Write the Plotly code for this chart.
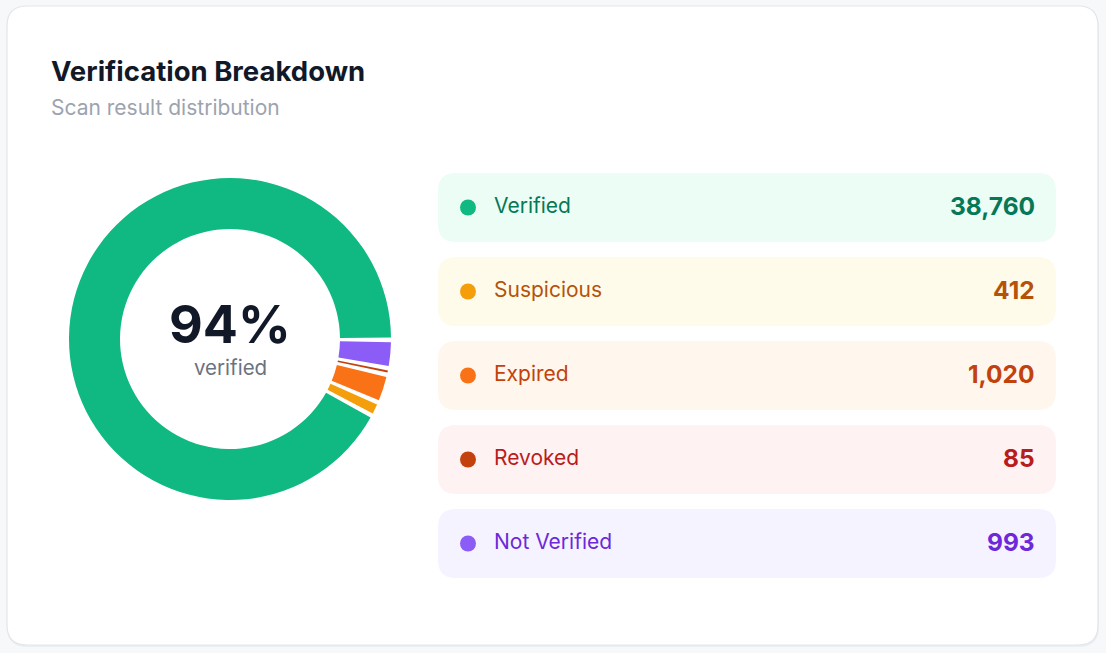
import plotly.graph_objects as go

# ---- data ----
categories = ["Verified", "Suspicious", "Expired", "Revoked", "Not Verified"]
counts = [38760, 412, 1020, 85, 993]
dot_colors = ["#10b981", "#f59e0b", "#f97316", "#c2410c", "#8b5cf6"]
text_colors = ["#047857", "#b45309", "#c2410c", "#b91c1c", "#6d28d9"]
row_bgs = ["#ecfdf5", "#fffbeb", "#fff7ed", "#fef2f2", "#f5f3ff"]
title = "Verification Breakdown"
subtitle = "Scan result distribution"

W, H = 1106, 653
FONT = "Inter, 'Noto Sans', sans-serif"

total = sum(counts)
pct = round(100 * counts[0] / total)

# donut order (clockwise from 3 o'clock): Not Verified, Revoked, Expired, Suspicious, Verified
pie_order = [4, 3, 2, 1, 0]
gap_deg = 1.7
gap_val = total * gap_deg / 360.0
pie_vals, pie_cols, pie_labels = [], [], []
for i in pie_order:
    pie_vals.append(gap_val)
    pie_cols.append("rgba(255,255,255,0)")
    pie_labels.append(f"gap{i}")
    pie_vals.append(counts[i])
    pie_cols.append(dot_colors[i])
    pie_labels.append(categories[i])


def rrect(x0, y0, x1, y1, r):
    return (f"M{x0+r},{y0} L{x1-r},{y0} Q{x1},{y0} {x1},{y0+r} "
            f"L{x1},{y1-r} Q{x1},{y1} {x1-r},{y1} L{x0+r},{y1} "
            f"Q{x0},{y1} {x0},{y1-r} L{x0},{y0+r} Q{x0},{y0} {x0+r},{y0} Z")


cx, cy, R = 230, 339, 161
fig = go.Figure()
fig.add_trace(go.Pie(
    values=pie_vals, labels=pie_labels, sort=False, direction="clockwise",
    rotation=89.5, hole=110 / R,
    marker=dict(colors=pie_cols, line=dict(width=0)),
    textinfo="none", hoverinfo="skip", showlegend=False,
    domain=dict(x=[(cx - R) / W, (cx + R) / W],
                y=[(H - cy - R) / H, (H - cy + R) / H]),
))

shapes = []
# card shadow + card
shapes.append(dict(type="path", path=rrect(7, 8, 1099, 647, 20), xref="x", yref="y",
                   fillcolor="#eceef2", line=dict(width=0), layer="below"))
shapes.append(dict(type="path", path=rrect(7, 6, 1098, 645, 20), xref="x", yref="y",
                   fillcolor="#ffffff", line=dict(color="#e3e5ea", width=1.2), layer="below"))

annotations = [
    dict(x=49, y=71, text=f"<b>{title}</b>", xanchor="left", yanchor="middle",
         font=dict(family=FONT, size=27.5, color="#111827")),
    dict(x=49, y=107, text=subtitle, xanchor="left", yanchor="middle",
         font=dict(family=FONT, size=21, color="#9ca3af")),
    dict(x=cx, y=324, text=f"<b>{pct}%</b>", xanchor="center", yanchor="middle",
         font=dict(family=FONT, size=52, color="#111827")),
    dict(x=cx, y=367, text="verified", xanchor="center", yanchor="middle",
         font=dict(family=FONT, size=20.5, color="#6b7280")),
]

row_x0, row_x1 = 438, 1056
row_top0, row_h, row_step = 173, 69, 84
for k, (name, val) in enumerate(zip(categories, counts)):
    y0 = row_top0 + k * row_step
    ym = y0 + row_h / 2
    shapes.append(dict(type="path", path=rrect(row_x0, y0, row_x1, y0 + row_h, 18),
                       xref="x", yref="y", fillcolor=row_bgs[k], line=dict(width=0),
                       layer="below"))
    shapes.append(dict(type="circle", xref="x", yref="y", x0=460, x1=476,
                       y0=ym - 8, y1=ym + 8, fillcolor=dot_colors[k],
                       line=dict(width=0), layer="above"))
    annotations.append(dict(x=492, y=ym - 2, text=name, xanchor="left", yanchor="middle",
                            font=dict(family=FONT, size=21, color=text_colors[k])))
    annotations.append(dict(x=1036.5, y=ym - 1.5, text=f"<b>{val:,}</b>", xanchor="right",
                            yanchor="middle",
                            font=dict(family=FONT, size=24.5, color=text_colors[k])))

for a in annotations:
    a.update(xref="x", yref="y", showarrow=False)

fig.update_layout(
    width=W, height=H, margin=dict(l=0, r=0, t=0, b=0),
    paper_bgcolor="#f7f8fa", plot_bgcolor="rgba(0,0,0,0)",
    xaxis=dict(range=[0, W], visible=False, fixedrange=True),
    yaxis=dict(range=[H, 0], visible=False, fixedrange=True),
    shapes=shapes, annotations=annotations, showlegend=False,
)
fig.write_html("out.html", config={"displayModeBar": False})
